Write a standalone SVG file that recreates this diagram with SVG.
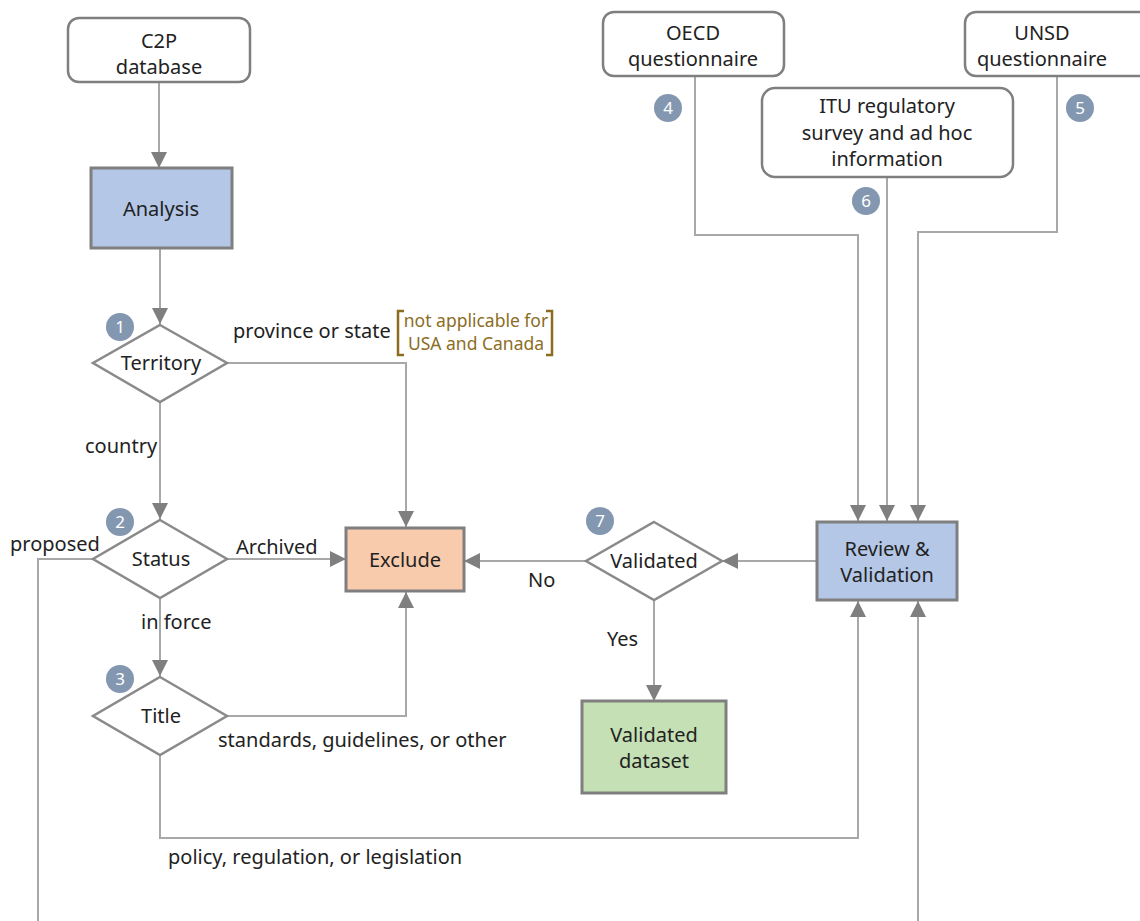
<svg xmlns="http://www.w3.org/2000/svg" width="1140" height="921" viewBox="0 0 1140 921">
<defs>
<marker id="ah" viewBox="0 0 16 16" refX="16" refY="8" markerWidth="16" markerHeight="16" markerUnits="userSpaceOnUse" orient="auto"><path d="M0,0 L16,8 L0,16 z" fill="#7f7f7f"/></marker>
<style>
text{font-family:"Noto Sans","Liberation Sans",sans-serif;font-size:20px;fill:#222}
.c{text-anchor:middle}
.src{fill:#fff;stroke:#7f7f7f;stroke-width:2.5}
.dia{fill:#fff;stroke:#8a8a8a;stroke-width:2.5}
.box{stroke:#7f7f7f;stroke-width:3}
.ln{fill:none;stroke:#a8a8a8;stroke-width:2}
.ar{marker-end:url(#ah)}
.bd circle{fill:#8497b0}
.bd text{fill:#fff;font-size:17px;text-anchor:middle}
.note{fill:#8c6d1f;font-size:17.5px;text-anchor:middle}
.br{fill:none;stroke:#8c6d1f;stroke-width:2.5}
</style>
</defs>
<rect width="1140" height="921" fill="#fff"/>
<g id="connectors">
<path class="ln ar" d="M159,82 V168"/>
<path class="ln ar" d="M160,248 V324"/>
<path class="ln ar" d="M227,363 H406 V527"/>
<path class="ln ar" d="M160,402 V519"/>
<path class="ln ar" d="M227,559 H346"/>
<path class="ln" d="M93,559 H38 V921"/>
<path class="ln ar" d="M160,599 V676"/>
<path class="ln ar" d="M227,716 H406 V592"/>
<path class="ln ar" d="M160,756 V838 H858 V601"/>
<path class="ln ar" d="M918,921 V601"/>
<path class="ln ar" d="M817,561 H722"/>
<path class="ln ar" d="M586,561 H464"/>
<path class="ln ar" d="M654,600 V701"/>
<path class="ln ar" d="M695,77 V235 H858 V521"/>
<path class="ln ar" d="M887,177 V521"/>
<path class="ln ar" d="M1057,77 V232 H918 V521"/>
</g>
<g id="c2p"><rect class="src" x="68" y="18" width="182" height="64" rx="11"/><text class="c" x="159" y="48">C2P</text><text class="c" x="159" y="74">database</text></g>
<g id="analysis"><rect class="box" x="91" y="168" width="141" height="80" fill="#b4c7e7"/><text class="c" x="161" y="216">Analysis</text></g>
<g id="territory"><path class="dia" d="M160,325 L227,363 L160,402 L93,363 z"/><text class="c" x="161" y="370">Territory</text></g>
<g id="status"><path class="dia" d="M160,520 L227,559 L160,598 L93,559 z"/><text class="c" x="161" y="566">Status</text></g>
<g id="title"><path class="dia" d="M160,677 L227,716 L160,755 L93,716 z"/><text class="c" x="161" y="723">Title</text></g>
<g id="exclude"><rect class="box" x="346" y="528" width="118" height="63" fill="#f8cbad"/><text class="c" x="405" y="567">Exclude</text></g>
<g id="validated"><path class="dia" d="M654,522 L722,561 L654,600 L586,561 z"/><text class="c" x="654" y="568">Validated</text></g>
<g id="dataset"><rect class="box" x="582" y="701" width="144" height="92" fill="#c5e0b4"/><text class="c" x="654" y="742">Validated</text><text class="c" x="654" y="768">dataset</text></g>
<g id="review"><rect class="box" x="817" y="522" width="140" height="78" fill="#b4c7e7"/><text class="c" x="887" y="556">Review &amp;</text><text class="c" x="887" y="582">Validation</text></g>
<g id="oecd"><rect class="src" x="603" y="12" width="181" height="64" rx="11"/><text class="c" x="693" y="40">OECD</text><text class="c" x="693" y="66">questionnaire</text></g>
<g id="itu"><rect class="src" x="762" y="88" width="251" height="89" rx="13"/><text class="c" x="887" y="113">ITU regulatory</text><text class="c" x="887" y="140">survey and ad hoc</text><text class="c" x="887" y="166">information</text></g>
<g id="unsd"><rect class="src" x="965" y="12" width="190" height="64" rx="11"/><text class="c" x="1042" y="40">UNSD</text><text class="c" x="1042" y="66">questionnaire</text></g>
<g id="labels">
<text x="233" y="338">province or state</text>
<path class="br" d="M404,311 H398 V355 H404"/>
<path class="br" d="M546,311 H552 V355 H546"/>
<text class="note" x="476" y="327">not applicable for</text>
<text class="note" x="476" y="350">USA and Canada</text>
<text x="85" y="453">country</text>
<text x="10" y="551">proposed</text>
<text x="236" y="554">Archived</text>
<text x="141" y="629">in force</text>
<text x="218" y="747">standards, guidelines, or other</text>
<text x="528" y="587">No</text>
<text x="607" y="646">Yes</text>
<text x="168" y="864">policy, regulation, or legislation</text>
</g>
<g id="badges" class="bd">
<g><circle cx="120" cy="327" r="14"/><text x="120" y="333">1</text></g>
<g><circle cx="120" cy="522" r="14"/><text x="120" y="528">2</text></g>
<g><circle cx="120" cy="679" r="14"/><text x="120" y="685">3</text></g>
<g><circle cx="668" cy="108" r="14"/><text x="668" y="114">4</text></g>
<g><circle cx="1080" cy="108" r="14"/><text x="1080" y="114">5</text></g>
<g><circle cx="866" cy="201" r="14"/><text x="866" y="207">6</text></g>
<g><circle cx="600" cy="521" r="14"/><text x="600" y="527">7</text></g>
</g>
</svg>
